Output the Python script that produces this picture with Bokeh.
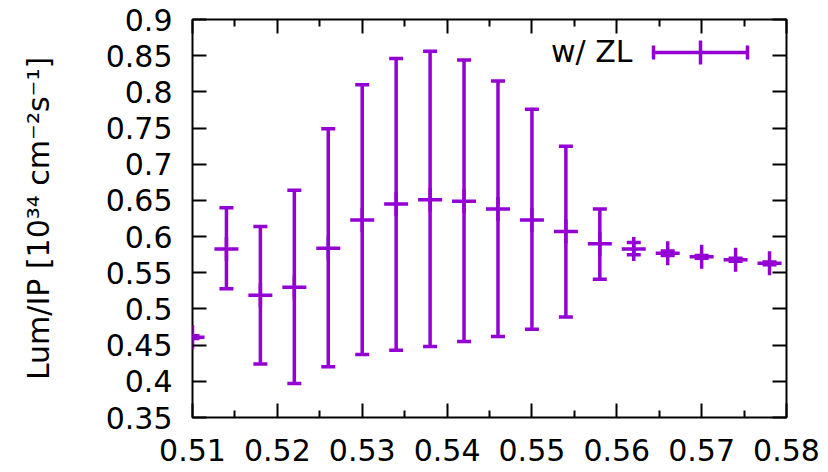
from bokeh.plotting import figure
from bokeh.models import (ColumnDataSource, Whisker, TeeHead, FixedTicker, LinearAxis,
                          CustomJSTickFormatter, Label, Arrow, Range1d)
from bokeh.embed import file_html
from bokeh.resources import INLINE

# Luminosity per IP versus the scanned parameter, with the vertical spread of each bin
x_vals = [0.510, 0.514, 0.518, 0.522, 0.526, 0.530, 0.534, 0.538, 0.542,
          0.546, 0.550, 0.554, 0.558, 0.562, 0.566, 0.570, 0.574, 0.578]
lum_mean = [0.461, 0.583, 0.519, 0.530, 0.584, 0.623, 0.645, 0.651, 0.649,
            0.638, 0.623, 0.607, 0.590, 0.583, 0.577, 0.572, 0.568, 0.563]
lum_upper = [0.463, 0.640, 0.614, 0.664, 0.749, 0.810, 0.846, 0.856, 0.844,
             0.815, 0.776, 0.725, 0.638, 0.592, 0.580, 0.574, 0.570, 0.565]
lum_lower = [0.459, 0.528, 0.424, 0.397, 0.420, 0.437, 0.443, 0.448, 0.455,
             0.462, 0.472, 0.489, 0.541, 0.575, 0.574, 0.570, 0.566, 0.561]

x_ticks = [0.51, 0.52, 0.53, 0.54, 0.55, 0.56, 0.57, 0.58]
x_minor = [0.515, 0.525, 0.535, 0.545, 0.555, 0.565, 0.575]
y_ticks = [0.35, 0.4, 0.45, 0.5, 0.55, 0.6, 0.65, 0.7, 0.75, 0.8, 0.85, 0.9]

series_label = "w/ ZL"
y_title = "Lum/IP [10³⁴ cm⁻²s⁻¹]"

PURPLE = "#9400D3"
FONT = "DejaVu Sans"
FS = "30px"
LW = 3.5

p = figure(width=828, height=472, output_backend="svg", toolbar_location=None,
           x_range=Range1d(0.51, 0.58), y_range=Range1d(0.35, 0.9),
           min_border_left=192, min_border_right=42, min_border_top=19,
           min_border_bottom=55)
p.grid.visible = False
p.outline_line_color = "black"
p.outline_line_width = 2
p.background_fill_color = "white"
p.border_fill_color = "white"

num_fmt = CustomJSTickFormatter(code="return String(Math.round(tick*1000)/1000);")
blank_fmt = CustomJSTickFormatter(code="return '';")


def style_axis(ax, labels=True):
    ax.axis_line_color = None
    ax.major_tick_in = 14
    ax.major_tick_out = 0
    ax.minor_tick_in = 7
    ax.minor_tick_out = 0
    ax.major_tick_line_width = 2
    ax.minor_tick_line_width = 2
    ax.major_tick_line_color = "black"
    ax.minor_tick_line_color = "black"
    if labels:
        ax.formatter = num_fmt
        ax.major_label_text_font = FONT
        ax.major_label_text_font_size = FS
        ax.major_label_text_color = "black"
    else:
        ax.formatter = blank_fmt
        ax.major_label_standoff = 0


xt = FixedTicker(ticks=x_ticks, minor_ticks=x_minor)
yt = FixedTicker(ticks=y_ticks, minor_ticks=[])

style_axis(p.xaxis[0])
p.xaxis[0].ticker = xt
p.xaxis[0].major_label_standoff = 21

style_axis(p.yaxis[0])
p.yaxis[0].ticker = yt
p.yaxis[0].major_label_standoff = 20
p.yaxis[0].axis_label = y_title
p.yaxis[0].axis_label_text_font = FONT
p.yaxis[0].axis_label_text_font_size = FS
p.yaxis[0].axis_label_text_font_style = "normal"
p.yaxis[0].axis_label_text_color = "black"
p.yaxis[0].axis_label_standoff = 47

top_ax = LinearAxis(ticker=xt)
style_axis(top_ax, labels=False)
p.add_layout(top_ax, "above")

right_ax = LinearAxis(ticker=yt)
style_axis(right_ax, labels=False)
p.add_layout(right_ax, "right")

src = ColumnDataSource(dict(x=x_vals, y=lum_mean, upper=lum_upper, lower=lum_lower))

whisk = Whisker(base="x", upper="upper", lower="lower", source=src,
                line_color=PURPLE, line_width=LW,
                upper_head=TeeHead(size=14, line_color=PURPLE, line_width=LW),
                lower_head=TeeHead(size=14, line_color=PURPLE, line_width=LW))
p.add_layout(whisk)

p.scatter("x", "y", source=src, marker="cross", size=24,
          line_color=PURPLE, line_width=LW)

# key in the upper right corner: label, error-bar sample and point symbol
key_y = 365
p.add_layout(Label(x=440, y=key_y + 1, x_units="screen", y_units="screen",
                   text=series_label, text_font=FONT, text_font_size=FS,
                   text_align="right", text_baseline="alphabetic",
                   text_color="black"))
p.add_layout(Arrow(x_start=461, y_start=key_y, x_end=555, y_end=key_y,
                   start_units="screen", end_units="screen",
                   line_color=PURPLE, line_width=LW,
                   start=TeeHead(size=14, line_color=PURPLE, line_width=LW),
                   end=TeeHead(size=14, line_color=PURPLE, line_width=LW)))
p.add_layout(Arrow(x_start=508, y_start=key_y - 12, x_end=508, y_end=key_y + 12,
                   start_units="screen", end_units="screen",
                   line_color=PURPLE, line_width=LW, start=None, end=None))

open("out.html", "w").write(file_html(p, INLINE))
